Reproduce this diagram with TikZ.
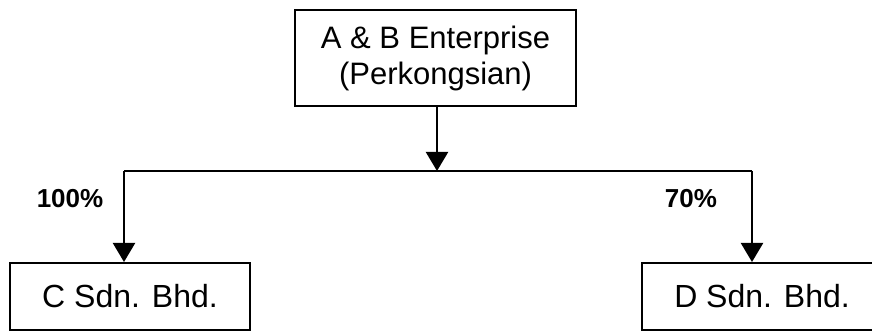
\documentclass[tikz,border=0pt]{standalone}
\usepackage{fontspec}
\setmainfont{Liberation Sans}
\usetikzlibrary{arrows.meta}
\begin{document}
\begin{tikzpicture}[x=0.5pt,y=-0.5pt,
  box/.style={draw,line width=1pt,rectangle,inner sep=0pt,font=\fontsize{15.5pt}{18pt}\selectfont,align=center},
  lowbox/.style={box,font=\fontsize{16pt}{18pt}\selectfont,minimum width=120pt,minimum height=33.5pt},
  conn/.style={line width=1.1pt},
  arr/.style={line width=1.1pt,-{Triangle[width=11pt,length=9.5pt]}},
  pct/.style={font=\fontsize{13pt}{15pt}\selectfont\bfseries}]
\useasboundingbox (0,0) rectangle (872,331);
\clip (0,0) rectangle (872,331);
\node[box,minimum width=140.5pt,minimum height=48pt] (top) at (435.5,58) {A \& B Enterprise\\(Perkongsian)};
\node[lowbox] (c) at (130,296.5) {C Sdn. Bhd.};
\node[lowbox] (d) at (762,296.5) {D Sdn. Bhd.};
\coordinate (mid) at (437,171);
\coordinate (lft) at (124,171);
\coordinate (rgt) at (752,171);
\draw[arr] (top.south -| mid) -- (mid);
\draw[conn] (lft) -- (rgt);
\draw[arr] (lft) -- (c.north -| lft);
\draw[arr] (rgt) -- (d.north -| rgt);
\node[pct] (p100) at (70,199) {100\%};
\node[pct] (p70) at (691,199) {70\%};
\end{tikzpicture}
\end{document}
